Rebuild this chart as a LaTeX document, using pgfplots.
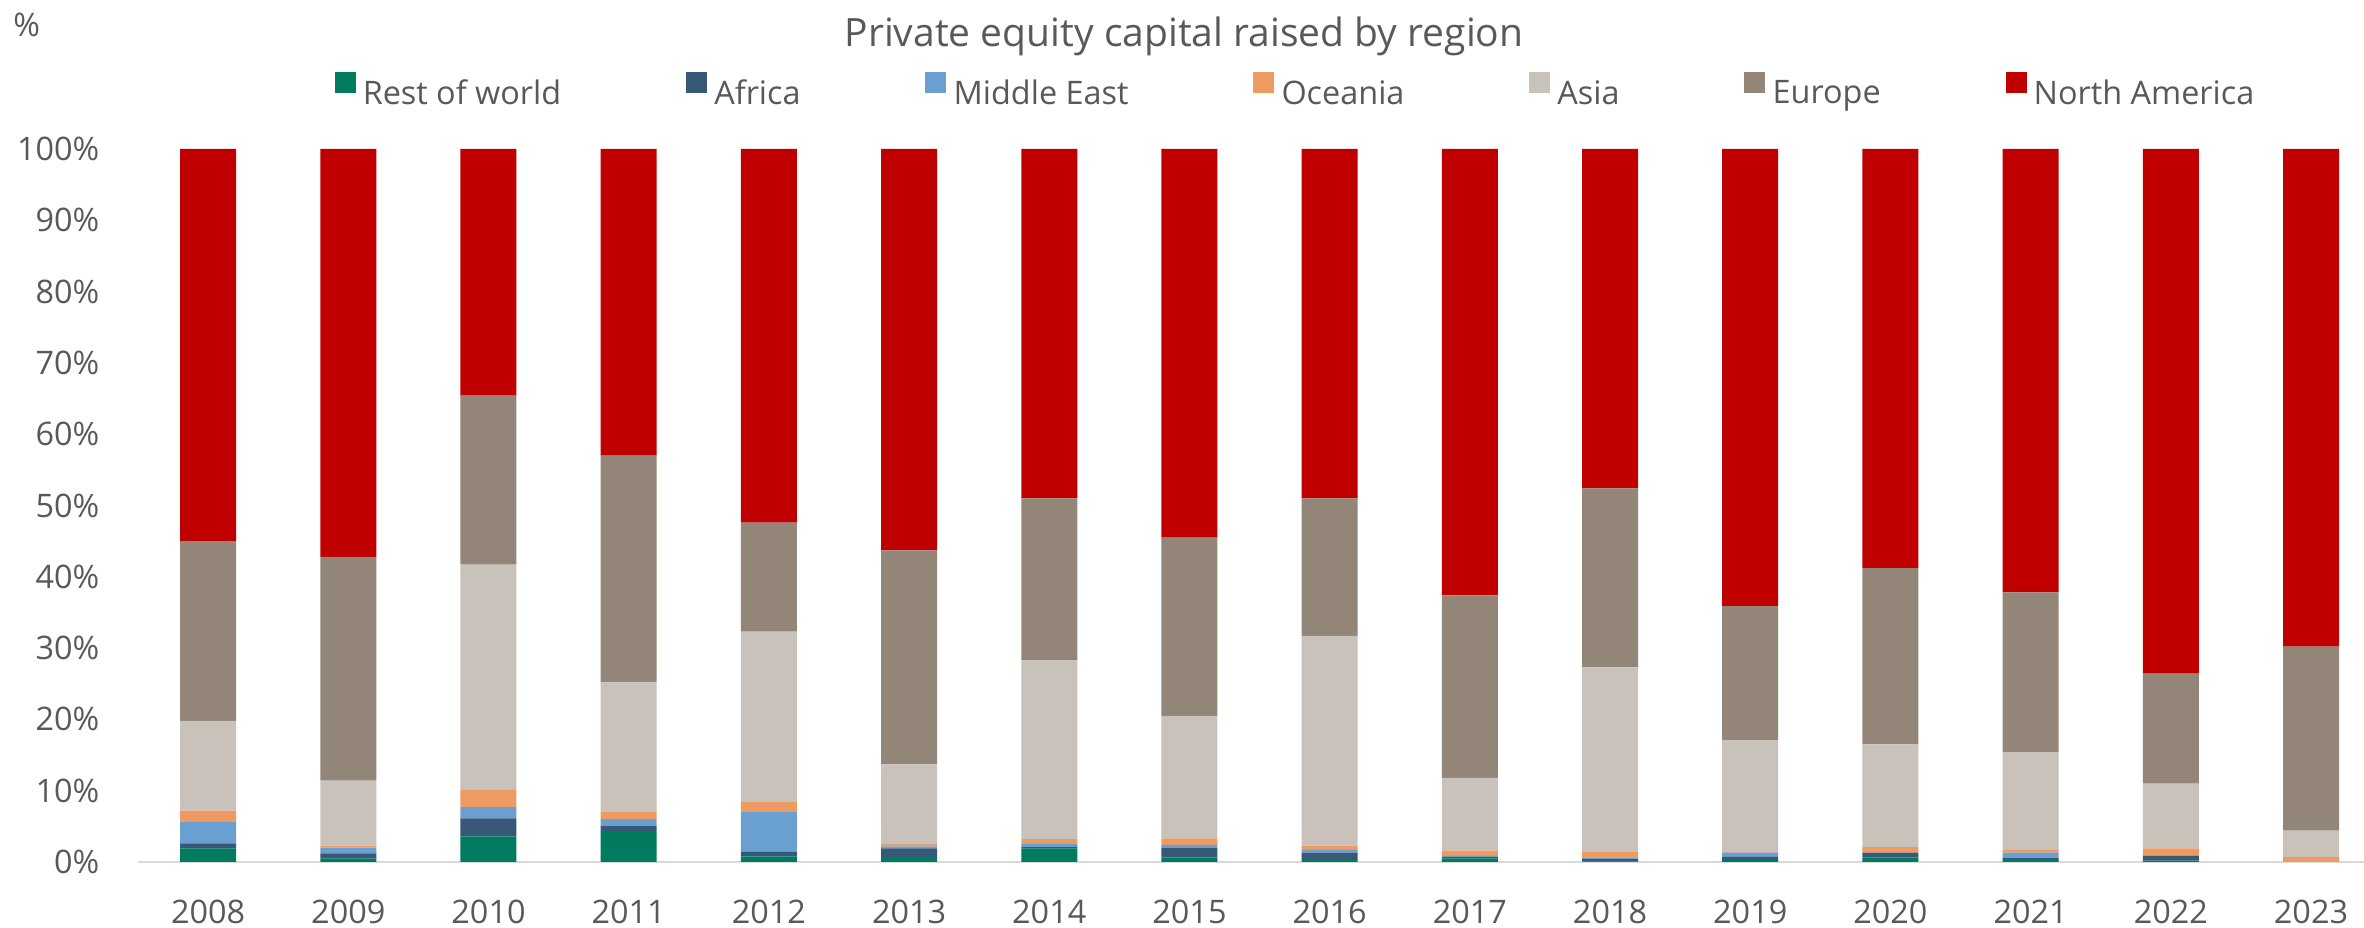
\documentclass[border=0pt]{standalone}
\usepackage{fontspec}
\setmainfont{Open Sans}
\usepackage{pgfplots}
\usepackage{pgfplotstable}
\pgfplotsset{compat=1.18}
\definecolor{txt}{HTML}{595959}
\definecolor{cRW}{HTML}{007B5F}
\definecolor{cAF}{HTML}{375877}
\definecolor{cME}{HTML}{6A9FD1}
\definecolor{cOC}{HTML}{ED9B62}
\definecolor{cAS}{HTML}{C9C2BB}
\definecolor{cEU}{HTML}{938577}
\definecolor{cNA}{HTML}{C00000}
\definecolor{axl}{HTML}{D9D9D9}
\pgfplotstableread{
x  rw   af   me   oc   as   eu   na
0  1.9  0.7  3.0  1.6  12.6 25.2 55.0
1  0.5  0.7  0.8  0.3  9.1  31.4 57.2
2  3.6  2.5  1.6  2.4  31.6 23.7 34.6
3  4.2  0.9  0.9  1.0  18.2 31.8 43.0
4  0.8  0.6  5.7  1.3  23.9 15.3 52.4
5  0.7  1.2  0.3  0.4  11.1 30.0 56.3
6  1.9  0.2  0.4  0.7  25.1 22.7 49.0
7  0.65 1.35 0.4  0.9  17.2 25.0 54.5
8  0.4  0.9  0.4  0.6  29.4 19.3 49.0
9  0.5  0.25 0.1  0.75 10.2 25.6 62.6
10 0.1  0.3  0.15 0.95 25.8 25.1 47.6
11 0.4  0.3  0.6  0.1  15.7 18.8 64.1
12 0.65 0.65 0.0  0.8  14.4 24.7 58.8
13 0.3  0.3  0.7  0.4  13.7 22.4 62.2
14 0.2  0.7  0.0  1.0  9.1  15.4 73.6
15 0.0  0.0  0.0  0.7  3.7  25.8 69.8
}\data
\begin{document}
\begin{tikzpicture}[x=1pt,y=1pt]
\useasboundingbox (0,0) rectangle (788,309.33);
\node[anchor=base, inner sep=0pt, font=\fontsize{13}{15}\selectfont, text=txt] at (394.7,293.7) {Private equity capital raised by region};
\node[anchor=base west, inner sep=0pt, font=\fontsize{10.8}{13}\selectfont, text=txt] at (4.3,297) {\%};
\begin{axis}[
  at={(46pt,22pt)}, anchor=south west,
  width=742pt, height=237.67pt, scale only axis,
  ybar stacked, bar width=18.67pt,
  xmin=-0.5, xmax=15.378, ymin=0, ymax=100,
  xtick={0,...,15},
  xticklabels={2008,2009,2010,2011,2012,2013,2014,2015,2016,2017,2018,2019,2020,2021,2022,2023},
  ytick={0,10,...,100},
  yticklabel={\pgfmathprintnumber{\tick}\%},
  /pgf/number format/assume math mode=true,
  tick label style={font=\fontsize{10.8}{13}\selectfont, text=txt},
  yticklabel style={anchor=east, inner sep=0pt, xshift=-12.7pt},
  xticklabel style={anchor=north, inner sep=0pt, yshift=-12.5pt},
  major tick length=0pt,
  xtick style={draw=none}, ytick style={draw=none},
  axis x line*=bottom, axis y line*=left,
  x axis line style={-, draw=axl, line width=0.7pt},
  y axis line style={draw=none},
  clip=false,
  legend columns=-1,
  legend image code/.code={\fill[#1] (0pt,0.4pt) rectangle (7pt,7.4pt);},
  legend style={at={(0.0883,1.0818)}, anchor=west, draw=none, fill=none,
    inner sep=0pt, outer sep=0pt, column sep=0pt,
    nodes={inner sep=0pt, text=txt},
    font=\fontsize{10.8}{13}\selectfont,
    /tikz/every odd column/.append style={column sep=2.4pt},
    /tikz/every even column/.append style={column sep=41.6pt}},
]
\addplot[fill=cRW, draw=none] table[x=x, y=rw] {\data};
\addplot[fill=cAF, draw=none] table[x=x, y=af] {\data};
\addplot[fill=cME, draw=none] table[x=x, y=me] {\data};
\addplot[fill=cOC, draw=none] table[x=x, y=oc] {\data};
\addplot[fill=cAS, draw=none] table[x=x, y=as] {\data};
\addplot[fill=cEU, draw=none] table[x=x, y=eu] {\data};
\addplot[fill=cNA, draw=none] table[x=x, y=na] {\data};
\legend{Rest of world, Africa, Middle East, Oceania, Asia, Europe, North America}
\end{axis}
\end{tikzpicture}
\end{document}
